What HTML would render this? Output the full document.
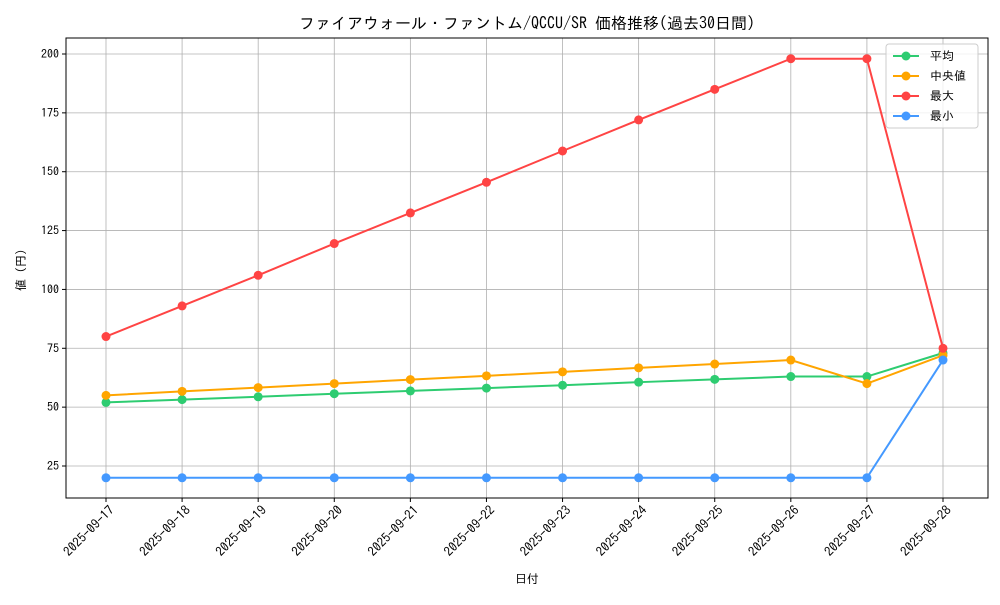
<!DOCTYPE html>
<html><head><meta charset="utf-8"><style>
body{margin:0;background:#fff;width:1000px;height:600px;overflow:hidden}
svg text{font-family:"IPAGothic","Noto Sans CJK JP",sans-serif;fill:#000}
</style></head><body>
<svg id="chart" width="1000" height="600"></svg>
<script>
const categories=["2025-09-17","2025-09-18","2025-09-19","2025-09-20","2025-09-21","2025-09-22","2025-09-23","2025-09-24","2025-09-25","2025-09-26","2025-09-27","2025-09-28"];
const avgValues=[52,53.2,54.4,55.7,56.9,58.1,59.3,60.6,61.8,63,63,73];
const medianValues=[55,56.7,58.3,60,61.7,63.3,65,66.7,68.3,70,60,72];
const maxValues=[80,93,106,119.5,132.5,145.5,158.8,172,185,198,198,75];
const minValues=[20,20,20,20,20,20,20,20,20,20,20,70];
const yTicks=[25,50,75,100,125,150,175,200];
const seriesNames=["平均","中央値","最大","最小"];
const colors=["#2ecc71","#ffa500","#ff4444","#4499ff"];
const NS="http://www.w3.org/2000/svg";
const svg=document.getElementById('chart');
const L=66,R=988,T=38,B=498;
const x=i=>106+i*(943-106)/(categories.length-1);
const y=v=>466-(v-25)*(466-54)/175;
function mk(t,a,p){const e=document.createElementNS(NS,t);for(const k in a)e.setAttribute(k,a[k]);(p||svg).appendChild(e);return e;}
const grid=mk('g',{});


categories.forEach((c,i)=>{
 const l=mk('line',{x1:x(i),x2:x(i),y1:T,y2:B,stroke:'#b0b0b0','stroke-width':0.8},grid);
 
 
 mk('line',{x1:x(i),x2:x(i),y1:B,y2:B+4,stroke:'#000'});
 const ax=x(i)+9, ay=B+13;
 const t=mk('text',{x:ax,y:ay,'font-size':13,'text-anchor':'end',transform:`rotate(-45 ${ax} ${ay})`});
 t.textContent=c;
 
 
});
yTicks.forEach(v=>{
 const l=mk('line',{x1:L,x2:R,y1:y(v),y2:y(v),stroke:'#b0b0b0','stroke-width':0.8},grid);
 
 
 mk('line',{x1:L-4,x2:L,y1:y(v),y2:y(v),stroke:'#000'});
 const t=mk('text',{x:L-7,y:y(v)+4,'font-size':12,'text-anchor':'end'});
 t.textContent=v;
 
 
});
const frame=mk('rect',{x:L,y:T,width:R-L,height:B-T,fill:'none',stroke:'#000','stroke-width':1});


[avgValues,medianValues,maxValues,minValues].forEach((vals,s)=>{
 const g=mk('g',{});
 
 
 const p=mk('polyline',{points:vals.map((v,i)=>x(i)+','+y(v)).join(' '),fill:'none',stroke:colors[s],'stroke-width':2},g);
 
 
 vals.forEach((v,i)=>{
  const c=mk('circle',{cx:x(i),cy:y(v),r:4.5,fill:colors[s]},g);
  
  
 });
});
const title=mk('text',{x:527,y:29,'font-size':16,'text-anchor':'middle'});
title.textContent='ファイアウォール・ファントム/QCCU/SR 価格推移(過去30日間)';


const xt=mk('text',{x:527,y:583,'font-size':12,'text-anchor':'middle'});
xt.textContent='日付';


const yt=mk('text',{x:25,y:270,'font-size':12,'text-anchor':'middle',transform:'rotate(-90 25 270)'});
yt.textContent='値 (円)';


const lg=mk('g',{});


mk('rect',{x:886,y:44,width:92,height:84,rx:3,fill:'#fff','fill-opacity':0.8,stroke:'#ccc'},lg);
seriesNames.forEach((n,i)=>{
 const e=mk('g',{},lg);
 
 
 const yy=56+i*20;
 mk('line',{x1:893,x2:919,y1:yy,y2:yy,stroke:colors[i],'stroke-width':2},e);
 mk('circle',{cx:906,cy:yy,r:4.5,fill:colors[i]},e);
 const t=mk('text',{x:930,y:yy+4,'font-size':12},e);
 t.textContent=n;
});
</script>
</body></html>
